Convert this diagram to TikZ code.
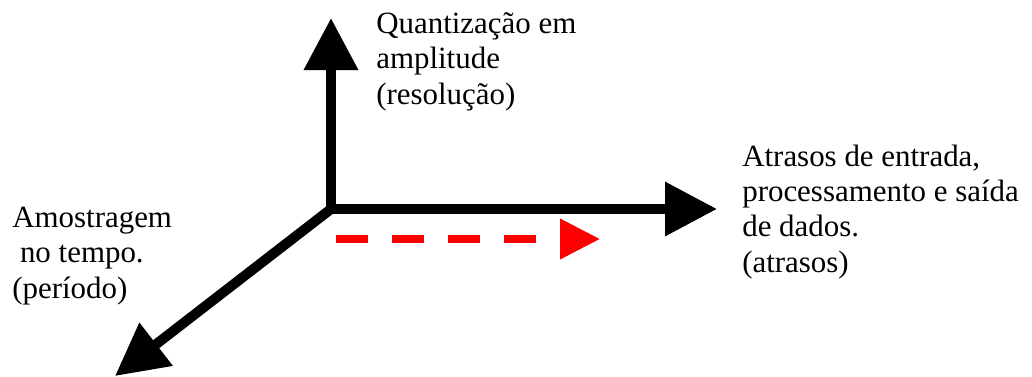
\documentclass[tikz,border=0pt]{standalone}
\usepackage{fontspec}
\setmainfont{Liberation Serif}
\usepackage{tikz}
\usetikzlibrary{arrows.meta}

\tikzset{
	eixo/.style={line width=0.25cm, black, line join=miter, >={Triangle[length=1.3cm,width=1.3cm]}},
	atraso/.style={line width=0.18cm, red, dash pattern=on 0.8cm off 0.6cm},
	rotulo/.style={anchor=base west, inner sep=0pt, align=left, font=\fontsize{22}{24.9}\selectfont}
}

\begin{document}
\begin{tikzpicture}
		\useasboundingbox (0,0) rectangle (25.8,9.4);
		
		\coordinate (origem) at (8.275,4.175);
		\coordinate (topo) at (8.275,8.95);
		\coordinate (direita) at (17.925,4.175);
		\coordinate (baixo) at (2.875,0);
		\coordinate (inicioAtraso) at (8.4,3.425);
		\coordinate (fimAtraso) at (15,3.425);
		
		\draw [eixo, <->] (topo) -- (origem) -- (direita);
		\draw [eixo, ->] (origem) -- (baixo);
		\draw [atraso, -{Triangle[length=1cm,width=0.975cm]}] (inicioAtraso) -- (fimAtraso);
		
		\node [rotulo] (amplitude) at (9.4,6.8) {Quantização em\\amplitude\\(resolução)};
		\node [rotulo] (atrasos) at (18.55,2.6) {Atrasos de entrada,\\processamento e saída\\de dados.\\(atrasos)};
		\node [rotulo] (tempo) at (0.3,1.95) {Amostragem\\\ no tempo.\\(período)};
\end{tikzpicture}
\end{document}
